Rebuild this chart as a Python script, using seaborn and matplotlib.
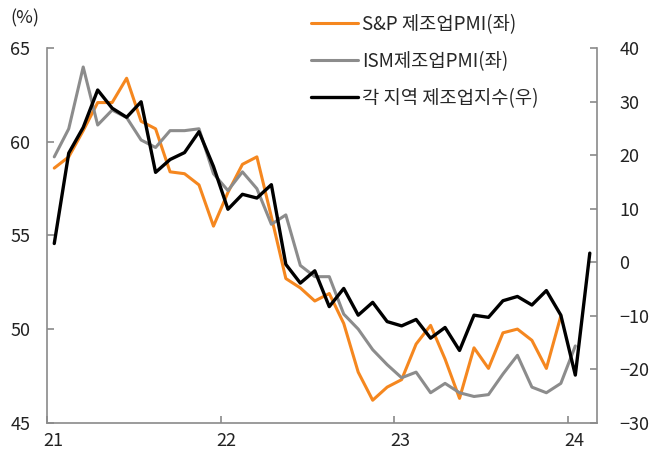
import numpy as np
import pandas as pd
import matplotlib
matplotlib.use('Agg')
import matplotlib.pyplot as plt
import matplotlib.transforms as mtransforms
import seaborn as sns

# 월별 데이터
year_labels = ['21', '22', '23', '24']
sp_pmi = [58.6, 59.2, 60.6, 62.1, 62.1, 63.4, 61.1, 60.7, 58.4, 58.3,
          57.7, 55.5, 57.3, 58.8, 59.2, 56.0, 52.7, 52.2, 51.5, 51.9,
          50.3, 47.7, 46.2, 46.9, 47.3, 49.2, 50.2, 48.4, 46.3, 49.0,
          47.9, 49.8, 50.0, 49.4, 47.9, 50.7]
ism_pmi = [59.2, 60.7, 64.0, 60.9, 61.7, 61.3, 60.1, 59.7, 60.6, 60.6,
           60.7, 58.3, 57.4, 58.4, 57.5, 55.6, 56.1, 53.4, 52.8, 52.8,
           50.8, 50.0, 48.9, 48.1, 47.4, 47.7, 46.6, 47.1, 46.6, 46.4,
           46.5, 47.6, 48.6, 46.9, 46.6, 47.1, 49.1]
regional = [3.5, 20.4, 25.2, 32.2, 28.8, 27.1, 30.0, 16.8, 19.2, 20.5,
            24.4, 17.9, 9.9, 12.7, 12.0, 14.5, -0.4, -3.9, -1.6, -8.3,
            -4.9, -9.9, -7.5, -11.1, -11.9, -10.7, -14.2, -12.2, -16.5, -9.9,
            -10.3, -7.2, -6.4, -8.0, -5.3, -9.9, -21.1, 1.7]
series_labels = ['S&P 제조업PMI(좌)', 'ISM제조업PMI(좌)', '각 지역 제조업지수(우)']

n_months = len(regional)
idx = np.arange(n_months)

sns.set_style('ticks')
plt.rcParams['font.family'] = ['Noto Sans CJK KR', 'DejaVu Sans']
plt.rcParams['font.size'] = 13
plt.rcParams['axes.unicode_minus'] = True

orange = '#F5871F'
gray = '#8C8C8C'
axis_gray = '#8A8A8A'
text_color = '#222222'

fig = plt.figure(figsize=(6.67, 4.55), dpi=100)
ax = fig.add_axes([0.0705, 0.071, 0.8246, 0.8229])
ax2 = ax.twinx()

sns.lineplot(x=idx[:len(sp_pmi)], y=sp_pmi, ax=ax, color=orange, linewidth=2.2,
             label=series_labels[0], legend=False)
sns.lineplot(x=idx[:len(ism_pmi)], y=ism_pmi, ax=ax, color=gray, linewidth=2.2,
             label=series_labels[1], legend=False)
sns.lineplot(x=idx, y=regional, ax=ax2, color='black', linewidth=2.4,
             label=series_labels[2], legend=False)

# 축 설정
ax.set_xlim(-0.5, n_months - 0.5)
ax.set_ylim(45, 65)
ax.set_yticks(np.arange(45, 66, 5))
ax2.set_ylim(-30, 40)
ax2.set_yticks(np.arange(-30, 41, 10))
ax.set_xticks(np.arange(len(year_labels)) * 12 - 0.5)
ax.set_xticklabels(year_labels)
ax.set_xlabel('')
ax.set_ylabel('')
ax2.set_ylabel('')

for a in (ax, ax2):
    a.spines['top'].set_visible(False)
    for s in a.spines.values():
        s.set_color(axis_gray)
        s.set_linewidth(1.2)
    a.tick_params(direction='in', length=5, width=1.2, color=axis_gray,
                  labelcolor=text_color, labelsize=13)
ax.spines['right'].set_visible(False)
ax2.spines['left'].set_visible(False)
ax2.spines['bottom'].set_visible(False)
ax.tick_params(axis='y', pad=12)
ax.tick_params(axis='x', pad=7)
ax2.tick_params(axis='y', pad=16)

# 연도 라벨을 살짝 오른쪽으로
offset = mtransforms.ScaledTranslation(6 / 100, 0, fig.dpi_scale_trans)
for lbl in ax.get_xticklabels():
    lbl.set_transform(lbl.get_transform() + offset)

fig.text(0.015, 1 - 18 / 455, '(%)', ha='left', va='center', color=text_color, fontsize=13)

h1, l1 = ax.get_legend_handles_labels()
h2, l2 = ax2.get_legend_handles_labels()
fig.legend(h1 + h2, l1 + l2, loc='upper left', bbox_to_anchor=(311 / 667, 1 - 14 / 455),
           frameon=False, handlelength=2.5, handletextpad=0.2, labelspacing=0.85,
           borderpad=0, borderaxespad=0, fontsize=13.5)

fig.savefig('out.png', dpi=100)
